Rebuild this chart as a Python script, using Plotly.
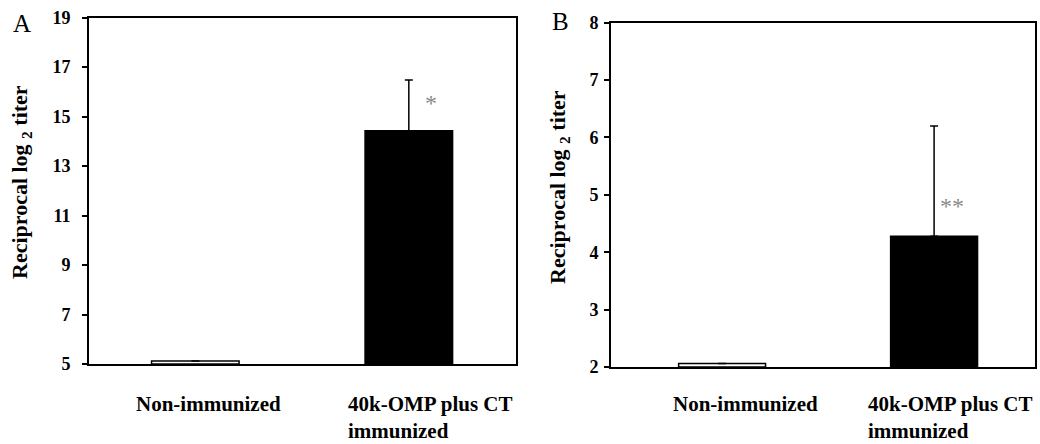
import plotly.graph_objects as go

# ---- data ----
categories = ["Non-immunized", "40k-OMP plus CT<br>immunized"]
panel_letters = ["A", "B"]

a_means = [5.12, 14.42]
a_err = [0.0, 2.05]
a_stars = ["", "*"]
a_ticks = [5, 7, 9, 11, 13, 15, 17, 19]

b_means = [2.06, 4.28]
b_err = [0.0, 1.92]
b_stars = ["", "**"]
b_ticks = [2, 3, 4, 5, 6, 7, 8]

y_title = "Reciprocal log <sub>2</sub> titer"

# ---- styles ----
W, H = 1040, 444
FONT = "Liberation Serif, Times New Roman, serif"
bar_fill = ["white", "black"]

fig = go.Figure()

panels = [
    dict(means=a_means, err=a_err, stars=a_stars, ticks=a_ticks, x="x", y="y",
         xd=[89 / W, 516 / W], yd=[1 - 364 / H, 1 - 17.5 / H], xr=[-0.498, 1.502],
         standoff=8, title_x=21, title_y=182, letter_xy=(22, 23),
         label_shift=[13.5, 22], star_shift=(22, 13)),
    dict(means=b_means, err=b_err, stars=b_stars, ticks=b_ticks, x="x2", y="y2",
         xd=[611 / W, 1035 / W], yd=[1 - 367 / H, 1 - 22.7 / H], xr=[-0.524, 1.476],
         standoff=2, title_x=559, title_y=187, letter_xy=(560, 21.5),
         label_shift=[23, 16], star_shift=(18, 15)),
]

for i, p in enumerate(panels):
    base = p["ticks"][0]
    fig.add_trace(go.Bar(
        x=[0, 1], y=[m - base for m in p["means"]], base=base,
        width=0.41,
        marker=dict(color=bar_fill, line=dict(color="black", width=1.5)),
        error_y=dict(type="data", symmetric=False, array=p["err"],
                     arrayminus=[0, 0], color="black", thickness=1.5, width=4),
        xaxis=p["x"], yaxis=p["y"], showlegend=False,
    ))
    sfx = "" if i == 0 else "2"
    fig.update_layout(**{
        "xaxis" + sfx: dict(domain=p["xd"], range=p["xr"], anchor=p["y"],
                            showticklabels=False, ticks="", showgrid=False,
                            zeroline=False, showline=True, linecolor="black",
                            linewidth=1.6, mirror=True, automargin=False,
                            fixedrange=True),
        "yaxis" + sfx: dict(domain=p["yd"], range=[p["ticks"][0], p["ticks"][-1]],
                            anchor=p["x"], tickvals=p["ticks"], ticks="outside",
                            ticklen=5, tickwidth=1.5, tickcolor="black",
                            ticklabelstandoff=p["standoff"], automargin=False,
                            fixedrange=True,
                            showgrid=False, zeroline=False, showline=True,
                            linecolor="black", linewidth=1.6, mirror=True,
                            tickfont=dict(family=FONT, size=18, color="black",
                                          weight="bold")),
    })
    # y-axis title
    fig.add_annotation(text=y_title, textangle=-90, xref="paper", yref="paper",
                       x=p["title_x"] / W, y=1 - p["title_y"] / H,
                       xanchor="center", yanchor="middle", showarrow=False,
                       font=dict(family=FONT, size=22, color="black", weight="bold"))
    # panel letter
    lx, ly = p["letter_xy"]
    fig.add_annotation(text=panel_letters[i], xref="paper", yref="paper",
                       x=lx / W, y=1 - ly / H, xanchor="center", yanchor="middle",
                       showarrow=False, font=dict(family=FONT, size=25, color="black"))
    # category labels
    for j, cat in enumerate(categories):
        fig.add_annotation(text=cat, xref=p["x"], yref="paper", x=j,
                           y=1 - 390 / H, xanchor="center", yanchor="top",
                           align="left", xshift=p["label_shift"][j],
                           showarrow=False,
                           font=dict(family=FONT, size=21, color="black",
                                     weight="bold"))
    # significance stars
    for j, s in enumerate(p["stars"]):
        if s:
            fig.add_annotation(text=s, xref=p["x"], yref=p["y"], x=j,
                               y=p["means"][j], xanchor="center",
                               yanchor="bottom", xshift=p["star_shift"][0],
                               yshift=p["star_shift"][1], showarrow=False,
                               font=dict(family=FONT, size=24, color="#8a8a8a"))

fig.update_layout(width=W, height=H, margin=dict(l=0, r=0, t=0, b=0, pad=0),
                  paper_bgcolor="white", plot_bgcolor="white",
                  font=dict(family=FONT, color="black"))

fig.write_html("out.html", config={"displayModeBar": False},
               post_script="document.body.style.margin='0';"
                           "document.body.style.overflow='hidden';")
